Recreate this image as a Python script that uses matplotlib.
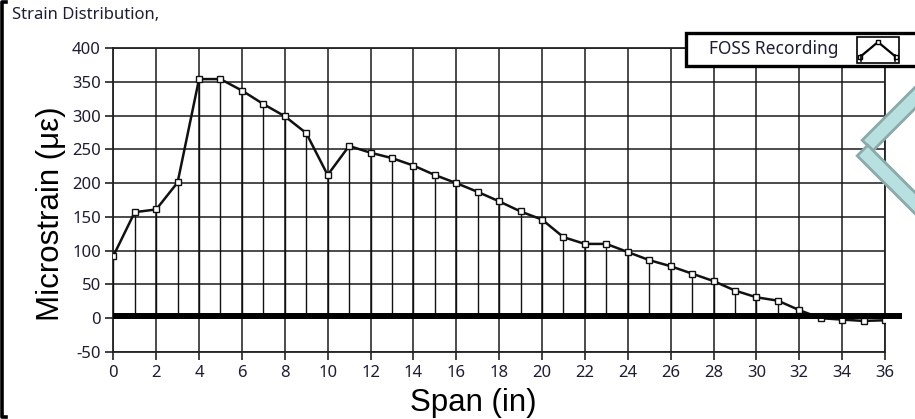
import matplotlib
matplotlib.use("Agg")
import matplotlib.pyplot as plt
from matplotlib.patches import Rectangle, Polygon
from matplotlib.lines import Line2D
import numpy as np

plt.rcParams["axes.unicode_minus"] = False

# ---- data ----
span_in = list(range(0, 37))
microstrain = [92, 157, 161, 201, 354, 354, 337, 317, 299, 274, 212, 255, 245, 237,
               226, 212, 200, 187, 173, 158, 146, 120, 110, 110, 98, 86, 77, 66, 55,
               41, 31, 26, 12, 0, -2, -4, -3]
x_ticks = list(range(0, 37, 2))
y_ticks = list(range(-50, 401, 50))
series_name = "FOSS Recording"
title_text = "Strain Distribution,"
x_label = "Span (in)"
y_label = "Microstrain (\u03bc\u03b5)"

W, H = 915, 419
fig = plt.figure(figsize=(W / 100, H / 100), dpi=100)

def fx(px):
    return px / W

def fy(py):
    return 1 - py / H

# axes placement (pixels)
L, R, T, B = 113.3, 885, 48, 352
ax = fig.add_axes([fx(L), fy(B), fx(R) - fx(L), fy(T) - fy(B)])
ax.set_xlim(0, 36)
ax.set_ylim(-50, 400)
ax.set_xticks(x_ticks)
ax.set_yticks(y_ticks)

tick_color = "#1d1d33"
ax.tick_params(axis="both", direction="out", length=6, width=1.2, color="#222222",
               labelsize=12, labelcolor=tick_color, pad=3)
for lab in ax.get_xticklabels() + ax.get_yticklabels():
    lab.set_fontfamily("Noto Sans")

ax.grid(True, color="#1a1a1a", linewidth=1.1)
ax.set_axisbelow(True)
for s in ax.spines.values():
    s.set_color("#222222")
    s.set_linewidth(1.3)

# stems to zero
ax.vlines(span_in, 0, microstrain, color="#111111", linewidth=1.0, zorder=3)
# curve
ax.plot(span_in, microstrain, color="#111111", linewidth=1.8, marker="s",
        markersize=4.2, markerfacecolor="white", markeredgecolor="#111111",
        markeredgewidth=1.0, zorder=5)

# thick zero annotation line
ax.plot([0, 36.8], [4, 4], color="black", linewidth=4.3, solid_capstyle="butt",
        clip_on=False, zorder=6)

# texts
fig.text(fx(12), fy(15), title_text, fontsize=12, family="Noto Sans",
         color="#1d1d33", va="center", ha="left")
fig.text(fx(473), fy(403), x_label, fontsize=22.5, family="Liberation Sans",
         ha="center", va="center", color="black")
fig.text(fx(51), fy(214), y_label, fontsize=22.5, family="Liberation Sans",
         ha="center", va="center", rotation=90, color="black")

# legend box (manual, LabVIEW style)
fig.patches.append(Rectangle((fx(686), fy(66)), fx(935) - fx(686), fy(33) - fy(66),
                             transform=fig.transFigure, facecolor="white",
                             edgecolor="black", linewidth=2.4, zorder=10))
fig.patches.append(Rectangle((fx(857), fy(63)), fx(899) - fx(857), fy(37) - fy(63),
                             transform=fig.transFigure, facecolor="white",
                             edgecolor="black", linewidth=1.2, zorder=11))
fig.text(fx(774), fy(49), series_name, fontsize=12.5, family="Noto Sans",
         color="#1d1d33", ha="center", va="center", zorder=12)
icon = Line2D([fx(860), fx(878), fx(896)], [fy(57), fy(42), fy(57)],
              transform=fig.transFigure, color="black", linewidth=1.6,
              marker="s", markersize=3, markerfacecolor="white", zorder=12)
fig.lines.append(icon)
for xe in (861, 895):
    fig.lines.append(Line2D([fx(xe), fx(xe)], [fy(55), fy(61)], transform=fig.transFigure,
                            color="black", linewidth=1.2, zorder=12))

# left bracket frame
fig.lines.append(Line2D([fx(6), fx(1.8), fx(1.8), fx(6)], [fy(2), fy(2), fy(416.5), fy(416.5)],
                        transform=fig.transFigure, color="black", linewidth=2.6, zorder=12))

# teal chevron decoration
fill_c, edge_c = "#b9e0e1", "#8aa9a8"
def strip(x0, y0, dx, dy, length, width):
    d = np.array([dx, dy]) / np.hypot(dx, dy)
    n = np.array([-d[1], d[0]])
    p0 = np.array([x0, y0])
    p1 = p0 + d * length
    pts = [p0 + n * width / 2, p1 + n * width / 2, p1 - n * width / 2, p0 - n * width / 2]
    return [(fx(p[0]), fy(p[1])) for p in pts]

fig.patches.append(Polygon(strip(867.5, 145.5, 1, -1, 110, 15), closed=True,
                           transform=fig.transFigure, facecolor=fill_c, edgecolor=edge_c,
                           linewidth=2.0, zorder=13))
fig.patches.append(Polygon(strip(862.5, 150.5, 1, 1, 110, 15), closed=True,
                           transform=fig.transFigure, facecolor=fill_c, edgecolor=edge_c,
                           linewidth=2.0, zorder=14))

fig.savefig("out.png", dpi=100, facecolor="white")
